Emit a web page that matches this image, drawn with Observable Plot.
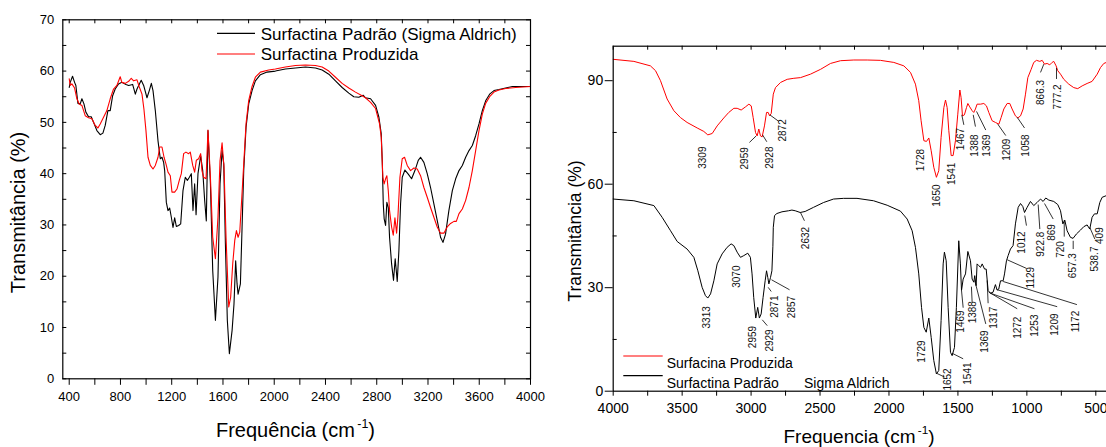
<!DOCTYPE html>
<html><head><meta charset="utf-8">
<script src="https://cdn.jsdelivr.net/npm/d3@7"></script>
<script src="https://cdn.jsdelivr.net/npm/@observablehq/plot@0.6"></script>
<style>
html,body{margin:0;padding:0;width:1106px;height:447px;overflow:hidden;background:#fff}
#left{position:absolute;left:0;top:0;width:560px;height:447px}
#right{position:absolute;left:560px;top:0;width:560px;height:447px}
svg{max-width:none !important;}
</style></head><body>
<div id="left"></div><div id="right"></div>
<script>
// ---------- data ----------
const leftPadrao = [[400,56.8],[408,57.8],[426,59.0],[442,57.8],[452,57.2],[468,53.7],[486,53.6],[499,54.6],[515,53.6],[530,52.0],[551,51.1],[572,51.1],[590,50.0],[616,48.4],[642,47.6],[663,47.9],[681,49.4],[702,52.3],[720,52.3],[739,55.2],[759,56.5],[785,57.5],[811,57.8],[843,57.4],[864,57.2],[895,57.4],[916,55.5],[929,56.5],[962,58.2],[981,57.2],[1007,54.8],[1025,56.2],[1041,57.6],[1054,56.2],[1072,52.3],[1093,46.4],[1111,42.9],[1124,43.2],[1137,42.2],[1145,40.6],[1158,34.4],[1171,32.8],[1184,33.3],[1197,31.5],[1210,29.5],[1223,31.4],[1236,29.7],[1254,29.9],[1270,30.2],[1288,36.7],[1306,39.3],[1322,38.7],[1338,39.3],[1353,40.0],[1366,32.8],[1379,38.0],[1390,32.0],[1405,40.0],[1426,43.5],[1442,40.6],[1457,34.8],[1470,30.8],[1483,48.4],[1502,38.0],[1520,21.1],[1541,11.4],[1561,19.8],[1577,38.0],[1593,44.5],[1606,41.9],[1619,26.3],[1634,11.4],[1650,4.9],[1671,9.4],[1686,14.6],[1699,23.0],[1710,18.5],[1718,16.5],[1736,18.5],[1749,29.5],[1762,40.6],[1780,49.0],[1801,53.6],[1827,56.2],[1853,58.1],[1892,59.3],[1944,59.8],[2009,60.0],[2087,60.4],[2166,60.6],[2244,60.8],[2322,60.6],[2374,60.2],[2426,59.4],[2478,58.1],[2530,56.8],[2582,55.7],[2621,55.0],[2660,54.9],[2694,55.3],[2712,54.8],[2752,54.6],[2791,53.3],[2817,51.0],[2835,47.8],[2843,42.5],[2851,34.1],[2858,31.2],[2869,29.9],[2879,34.4],[2890,33.4],[2900,27.6],[2916,22.4],[2931,19.2],[2944,23.4],[2960,19.0],[2973,25.0],[2986,34.1],[2999,39.3],[3020,40.7],[3046,39.9],[3072,39.0],[3098,40.6],[3124,42.6],[3142,43.2],[3168,42.2],[3194,40.0],[3220,37.3],[3246,34.1],[3272,30.9],[3298,27.6],[3317,26.6],[3337,28.2],[3363,32.8],[3390,36.7],[3416,39.0],[3442,40.6],[3468,41.6],[3494,43.2],[3520,44.5],[3546,45.5],[3572,47.4],[3598,49.7],[3624,52.3],[3650,54.2],[3681,55.5],[3715,56.2],[3754,56.4],[3806,56.7],[3858,57.0],[3936,57.0],[4000,57.0]];
const leftProduzida = [[400,58.5],[408,57.2],[421,57.5],[442,56.7],[460,54.6],[478,53.6],[499,53.3],[525,51.3],[551,50.9],[577,50.7],[603,49.4],[624,48.9],[642,49.7],[668,51.0],[694,52.3],[720,54.6],[746,56.5],[772,57.2],[798,58.9],[811,57.8],[838,57.6],[864,58.0],[884,58.6],[903,58.1],[929,58.3],[947,56.9],[968,55.5],[983,52.6],[999,48.4],[1015,43.2],[1033,41.6],[1054,40.9],[1072,41.6],[1093,43.2],[1106,45.2],[1124,45.2],[1140,43.2],[1155,41.9],[1171,40.3],[1189,39.6],[1202,36.4],[1223,36.4],[1241,37.0],[1259,38.7],[1275,40.0],[1293,43.9],[1311,44.2],[1332,43.9],[1345,44.2],[1364,41.6],[1379,40.3],[1392,42.6],[1410,42.9],[1426,43.9],[1436,40.6],[1449,39.3],[1468,39.0],[1483,48.5],[1502,39.3],[1520,27.6],[1541,23.4],[1561,31.5],[1577,42.5],[1593,46.0],[1608,41.3],[1624,27.6],[1645,14.0],[1660,15.9],[1676,22.4],[1692,27.0],[1705,28.9],[1718,27.6],[1731,28.6],[1744,34.1],[1762,41.9],[1780,49.7],[1801,54.3],[1827,57.0],[1853,58.8],[1892,59.8],[1957,60.2],[2009,60.4],[2087,60.8],[2166,61.1],[2244,61.2],[2322,61.1],[2374,60.8],[2426,60.0],[2478,58.8],[2530,57.6],[2582,56.7],[2634,55.9],[2686,55.2],[2712,54.8],[2752,53.9],[2791,52.7],[2822,49.7],[2835,47.1],[2848,39.3],[2858,38.0],[2869,39.0],[2879,39.6],[2890,36.7],[2900,32.8],[2916,29.6],[2929,28.0],[2942,31.4],[2955,28.4],[2965,31.5],[2981,39.3],[2999,42.9],[3017,43.2],[3038,41.6],[3064,40.6],[3090,41.1],[3116,40.9],[3142,39.6],[3168,37.3],[3194,35.4],[3220,33.4],[3246,31.5],[3272,29.6],[3298,28.4],[3324,28.4],[3350,29.6],[3376,30.3],[3403,30.7],[3421,30.7],[3442,32.2],[3468,33.1],[3494,34.8],[3520,37.3],[3546,40.6],[3572,44.5],[3598,48.4],[3624,51.6],[3650,53.7],[3681,55.0],[3715,55.9],[3754,56.3],[3806,56.6],[3884,56.8],[4000,57.0]];

const rightProduzida = [[4000,96.2],[3850,95.6],[3730,94.3],[3693,92.9],[3657,90.0],[3609,84.7],[3560,81.3],[3512,79.3],[3464,77.9],[3391,76.3],[3343,75.3],[3314,74.3],[3282,74.7],[3246,76.9],[3198,79.2],[3162,80.8],[3125,82.0],[3101,82.0],[3072,81.5],[3041,82.4],[3016,83.2],[2999,82.7],[2985,79.3],[2968,75.0],[2956,74.0],[2944,76.0],[2932,74.0],[2920,73.7],[2903,76.9],[2888,80.8],[2876,80.8],[2866,79.8],[2854,80.5],[2839,86.1],[2823,88.0],[2786,89.5],[2738,90.4],[2690,90.7],[2641,90.9],[2569,91.9],[2496,93.3],[2424,95.0],[2351,95.8],[2255,96.0],[2158,96.0],[2062,95.9],[1965,95.3],[1892,94.3],[1844,92.4],[1808,89.0],[1784,84.2],[1767,78.4],[1747,72.6],[1728,72.4],[1711,73.4],[1694,69.7],[1675,64.9],[1656,62.0],[1639,63.9],[1622,73.6],[1602,82.2],[1590,84.4],[1578,82.2],[1566,75.5],[1549,68.3],[1535,68.3],[1518,72.6],[1501,80.3],[1486,87.3],[1477,85.1],[1467,79.8],[1453,80.1],[1438,82.2],[1428,83.4],[1414,82.4],[1397,81.3],[1385,80.8],[1373,81.8],[1361,83.2],[1336,83.2],[1312,83.4],[1293,82.7],[1276,80.8],[1252,78.4],[1228,77.9],[1203,77.4],[1187,79.3],[1167,81.8],[1143,83.4],[1124,83.4],[1107,81.8],[1083,79.8],[1066,79.2],[1046,79.8],[1027,81.8],[1010,86.1],[993,90.9],[969,93.3],[950,95.3],[930,95.9],[906,95.6],[889,95.9],[872,94.8],[853,95.0],[834,94.6],[817,95.3],[805,95.6],[788,94.3],[776,92.9],[756,91.9],[732,90.4],[696,89.0],[660,88.0],[631,87.7],[599,88.5],[563,89.2],[527,89.8],[490,91.9],[466,93.8],[442,95.0],[423,95.3],[400,95.5]];
const rightPadrao = [[4000,55.7],[3850,55.2],[3705,53.8],[3645,50.4],[3584,46.5],[3536,43.4],[3464,41.2],[3415,38.8],[3386,34.9],[3355,30.1],[3331,27.7],[3314,27.0],[3294,28.2],[3270,32.0],[3246,36.9],[3210,39.8],[3174,41.7],[3145,42.7],[3125,42.2],[3101,40.3],[3077,38.8],[3053,39.3],[3024,40.0],[3005,38.8],[2993,34.0],[2981,27.2],[2966,21.2],[2952,24.3],[2940,21.2],[2927,22.4],[2913,27.2],[2898,32.0],[2888,34.9],[2879,33.0],[2871,31.1],[2859,33.0],[2849,34.9],[2842,42.0],[2839,47.5],[2830,50.9],[2813,51.5],[2776,52.0],[2728,52.3],[2704,52.5],[2680,52.3],[2644,51.8],[2608,52.1],[2547,53.3],[2474,54.7],[2402,55.7],[2329,55.9],[2232,55.9],[2112,55.2],[2013,53.9],[1917,52.2],[1868,49.9],[1832,46.5],[1808,41.7],[1784,34.0],[1764,24.3],[1747,18.5],[1730,17.1],[1711,21.2],[1694,15.6],[1675,8.9],[1656,5.0],[1639,6.0],[1622,20.5],[1607,36.9],[1598,40.3],[1585,37.8],[1571,24.3],[1554,11.3],[1542,10.3],[1525,12.7],[1511,24.3],[1494,43.6],[1482,36.9],[1474,29.2],[1462,32.5],[1445,34.0],[1428,40.5],[1409,37.8],[1397,32.5],[1385,31.6],[1378,33.5],[1368,30.6],[1361,36.9],[1349,36.4],[1336,35.9],[1324,36.9],[1307,35.4],[1295,35.4],[1281,29.2],[1264,28.4],[1245,28.7],[1228,30.9],[1216,29.3],[1204,29.6],[1191,32.0],[1172,32.0],[1162,34.0],[1148,37.8],[1136,39.3],[1119,41.2],[1100,42.2],[1083,48.5],[1063,53.3],[1046,54.4],[1029,53.5],[1017,51.8],[998,53.3],[974,55.0],[950,53.8],[926,54.7],[901,55.7],[882,55.0],[863,56.0],[841,55.4],[805,55.0],[776,54.1],[756,52.3],[739,48.5],[725,49.6],[708,46.5],[684,44.6],[665,44.3],[640,45.6],[611,46.7],[587,47.7],[563,48.2],[544,47.0],[527,50.4],[510,51.4],[490,51.4],[471,54.7],[454,56.2],[423,56.7],[400,56.8]];

// peak labels: [text, wavenumber, transmittance]
const redPeakLabels = [["3309",3347,67.7],["2959",3048,67.5],["2928",2864,67.7],["2872",2767,75.6],["1728",1766,67.0],["1650",1655,56.7],["1541",1547,63.0],["1467",1476,73.1],["1388",1380,71.2],["1369",1293,71.2],["1209",1143,70.0],["1058",1008,71.2],["866.3",901,86.6],["777.2",773,85.3]];
const redLeaders = [[3012,72.1,2963,74.0],[2886,72.3,2917,74.3],[2799,78.2,2864,80.1],[1472,80.1,1457,77.2],[1389,80.1,1373,76.7],[1365,81.1,1298,75.7],[1211,77.4,1153,74.1],[1070,79.4,1017,76.3],[901,92.4,877,94.8],[785,93.7,785,90.5]];
const blackPeakLabels = [["2632",2605,44.4],["3313",3323,21.4],["3070",3101,33.2],["2959",2985,15.7],["2929",2864,14.7],["2871",2830,24.5],["2857",2702,24.4],["1729",1764,11.5],["1652",1574,3.4],["1541",1428,5.1],["1469",1481,20.2],["1388",1389,22.9],["1369",1307,14.4],["1317",1240,21.3],["1272",1066,18.4],["1253",945,19.0],["1209",797,19.3],["1172",647,20.2],["1129",974,32.9],["1012",1034,43.1],["922.8",901,42.6],["869",821,46.0],["720",754,41.1],["657.3",664,36.4],["538.7",507,38.3],["409",470,45.1]];
const blackLeaders = [[2642,51.8,2613,49.4],[2919,20.7,2883,19.0],[2876,30.1,2854,28.9],[2852,32.3,2721,29.4],[1655,5.2,1597,4.1],[1542,11.0,1462,9.4],[1474,29.2,1462,24.2],[1402,30.3,1397,25.8],[1378,32.1,1298,19.5],[1288,32.1,1281,25.5],[1276,28.7,1070,23.9],[1264,28.4,945,23.9],[1215,29.4,780,24.5],[1172,31.8,637,25.1],[1143,38.1,1003,35.6],[1015,50.9,1003,48.0],[918,54.1,906,47.0],[872,54.4,809,49.9],[729,49.6,729,44.8],[664,43.6,664,41.2],[544,47.5,507,44.1]];

const leftXTicks = d3.range(400, 4001, 200);
const leftYTicks = d3.range(0, 71, 5);
const rightXTicks = d3.range(500, 4001, 250);
const rightYTicks = [0, 30, 60, 90];
const rightYMinor = [15, 45, 75];
const leftLegend = ["Surfactina Padrão (Sigma Aldrich)", "Surfactina Produzida"];
const rightLegend = ["Surfacina Produzida", "Surfactina Padrão", "Sigma Aldrich"];
const yTitle = "Transmitância (%)";
const xTitleLeft = "Frequência (cm";
const xTitleRight = "Frequencia (cm";

// ---------- drawing ----------
const FONT = '"Liberation Sans", Arial, Helvetica, sans-serif';
const RED = "#ff0000";

function addTitle(svg, x, y, rotate, size, main, sup, tail) {
  const t = d3.select(svg).append("text")
    .attr("transform", `translate(${x},${y}) rotate(${rotate})`)
    .attr("text-anchor", "middle").attr("font-size", size)
    .attr("font-family", FONT).attr("fill", "#000");
  t.append("tspan").text(main);
  if (sup) {
    t.append("tspan").attr("font-size", size * 0.62).attr("dy", -size * 0.45).attr("dx", size*0.12).text(sup);
    t.append("tspan").attr("dy", size * 0.45).text(tail);
  }
}
function addLegendRow(svg, x1, x2, y, color, tx, ty, label, size) {
  const g = d3.select(svg).append("g");
  g.append("line").attr("x1", x1).attr("x2", x2).attr("y1", y).attr("y2", y)
    .attr("stroke", color).attr("stroke-width", 1.2);
  g.append("text").attr("x", tx).attr("y", ty).attr("font-size", size)
    .attr("text-anchor", "start")
    .attr("font-family", FONT).attr("fill", "#000").text(label);
}

// Left panel
{
  const W = 560, H = 447, mL = 62.3, mR = 30, mT = 19.3, mB = 68.7;
  const fw = W - mL - mR, fh = H - mT - mB;
  const svg = Plot.plot({
    width: W, height: H, marginLeft: mL, marginRight: mR, marginTop: mT, marginBottom: mB,
    x: {domain: [350, 4000]},
    y: {domain: [0, 70]},
    style: {fontFamily: FONT, fontSize: "13px", color: "#000", background: "#fff"},
    marks: [
      Plot.line(leftPadrao, {x: d => d[0], y: d => d[1], stroke: "#000", strokeWidth: 1.1}),
      Plot.line(leftProduzida, {x: d => d[0], y: d => d[1], stroke: RED, strokeWidth: 1.1}),
      Plot.frame({stroke: "#000", strokeWidth: 1.2}),
      Plot.axisX({ticks: leftXTicks, tickFormat: d => d % 400 === 0 ? String(d) : "", tickSize: 6.5, tickPadding: 6.5, fontSize: 13, label: null}),
      Plot.axisY({ticks: leftYTicks, tickFormat: d => d % 10 === 0 ? String(d) : "", tickSize: 0, tickPadding: 8.5, fontSize: 13, label: null}),
      Plot.tickY(leftYTicks, {y: d => d, insetRight: fw - 4, stroke: "#000"}),
      Plot.tickY(leftYTicks, {y: d => d, insetLeft: fw - 4, stroke: "#000"}),
      Plot.tickX(leftXTicks, {x: d => d, insetBottom: fh - 4, stroke: "#000"})
    ]
  });
  addTitle(svg, 295.5, 436.5, 0, 20, xTitleLeft, "-1", ")");
  addTitle(svg, 25, 212.5, -90, 20, yTitle);
  addLegendRow(svg, 217, 255, 33.3, "#000", 260.7, 39.5, leftLegend[0], 17);
  addLegendRow(svg, 217, 255, 54, RED, 260.7, 60.2, leftLegend[1], 17);
  document.getElementById("left").append(svg);
}

// Right panel
{
  const W = 560, H = 447, mL = 52.7, mR = 10.9, mT = 45.7, mB = 56.3;
  const fw = W - mL - mR, fh = H - mT - mB;
  const lab = {x: d => d[1], y: d => d[2], text: d => d[0], rotate: -90, fontSize: 10, textAnchor: "middle", fill: "#111"};
  const lnk = {x1: d => d[0], y1: d => d[1], x2: d => d[2], y2: d => d[3], stroke: "#000", strokeWidth: 0.8};
  const svg = Plot.plot({
    width: W, height: H, marginLeft: mL, marginRight: mR, marginTop: mT, marginBottom: mB,
    x: {domain: [4000, 400]},
    y: {domain: [0, 100]},
    style: {fontFamily: FONT, fontSize: "14px", color: "#000", background: "#fff"},
    marks: [
      Plot.line(rightProduzida, {x: d => d[0], y: d => d[1], stroke: RED, strokeWidth: 1}),
      Plot.line(rightPadrao, {x: d => d[0], y: d => d[1], stroke: "#000", strokeWidth: 1}),
      Plot.link(redLeaders, lnk),
      Plot.link(blackLeaders, lnk),
      Plot.text(redPeakLabels, lab),
      Plot.text(blackPeakLabels, lab),
      Plot.frame({stroke: "#000", strokeWidth: 1.2}),
      Plot.axisX({ticks: rightXTicks, tickFormat: d => d % 500 === 0 ? String(d) : "", tickSize: 5, tickPadding: 7, fontSize: 14, label: null}),
      Plot.axisY({ticks: rightYTicks, tickSize: 8, tickPadding: 2, fontSize: 14, label: null}),
      Plot.tickY(rightYMinor, {y: d => d, insetRight: fw - 4, stroke: "#000"}),
      Plot.tickX(rightXTicks, {x: d => d, insetBottom: fh - 4, stroke: "#000"})
    ]
  });
  addTitle(svg, 299, 443, 0, 19, xTitleRight, "-1", ")");
  addTitle(svg, 21, 231, -90, 17.5, yTitle);
  addLegendRow(svg, 63.3, 102.7, 356, RED, 106.7, 367.7, rightLegend[0], 14);
  addLegendRow(svg, 63.3, 102.7, 375.7, "#000", 106.7, 387.7, rightLegend[1], 14);
  d3.select(svg).append("text").attr("x", 244).attr("y", 387.7).attr("font-size", 14)
    .attr("text-anchor", "start")
    .attr("font-family", FONT).attr("fill", "#000").text(rightLegend[2]);
  document.getElementById("right").append(svg);
}
</script></body></html>
